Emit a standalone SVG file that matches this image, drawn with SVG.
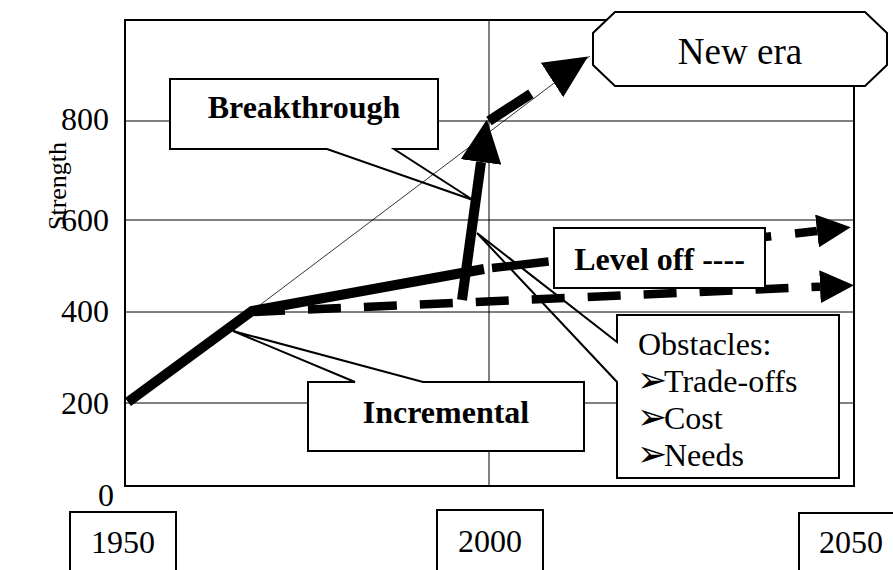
<svg xmlns="http://www.w3.org/2000/svg" width="893" height="570" viewBox="0 0 893 570">
<style>
text{font-family:"Liberation Serif","Times New Roman",serif;fill:#000}
.lbl{font-size:32px}
.b{font-size:32px;font-weight:bold;text-anchor:middle}
.ax{font-size:32px;text-anchor:end}
.yr{font-size:32px;text-anchor:middle}
.bul{font-family:"DejaVu Sans",sans-serif;font-size:36px}
.grid{stroke:#000;stroke-width:1;fill:none}
.box{fill:#fff;stroke:#000;stroke-width:2}
.boxfill{fill:#fff;stroke:none}
.outline{fill:none;stroke:#000;stroke-width:2;stroke-linejoin:miter}
.thick{fill:none;stroke:#000;stroke-width:10;stroke-linecap:butt;stroke-linejoin:round}
.dash{fill:none;stroke:#000;stroke-width:8.5;stroke-linecap:butt}
</style>
<defs>
<marker id="ahL" viewBox="0 0 10 10" refX="0" refY="5" markerUnits="userSpaceOnUse" markerWidth="43" markerHeight="41" orient="auto" preserveAspectRatio="none"><path d="M0,0 L10,5 L0,10 Z" fill="#000"/></marker>
<marker id="ahS" viewBox="0 0 10 10" refX="0" refY="5" markerUnits="userSpaceOnUse" markerWidth="34" markerHeight="33" orient="auto" preserveAspectRatio="none"><path d="M0,0 L10,5 L0,10 Z" fill="#000"/></marker>
</defs>
<rect width="893" height="570" fill="#fff"/>
<g id="plot">
<rect x="125" y="20" width="729" height="466" fill="#fff" stroke="#000" stroke-width="2"/>
<line class="grid" x1="125" y1="121" x2="854" y2="121"/>
<line class="grid" x1="125" y1="220" x2="854" y2="220"/>
<line class="grid" x1="125" y1="312" x2="854" y2="312"/>
<line class="grid" x1="125" y1="403" x2="854" y2="403"/>
<line class="grid" x1="489" y1="20" x2="489" y2="486"/>
</g>
<g id="axis-labels">
<text class="ax" x="109" y="130">800</text>
<text class="ax" x="109" y="231">600</text>
<text class="ax" x="109" y="322">400</text>
<text class="ax" x="109" y="414">200</text>
<text class="ax" x="114" y="506">0</text>
<text style="font-size:26px" text-anchor="middle" transform="translate(66,186) rotate(-90)">Strength</text>
</g>
<g id="connectors">
<line x1="252" y1="311" x2="590" y2="56" stroke="#000" stroke-width="0.8"/>
<polyline class="thick" points="128,402 252,311 484,269"/>
<path class="dash" d="M252,312 L820,286.7" stroke-dasharray="33 23" marker-end="url(#ahS)"/>
<path class="dash" d="M492,268 L817,231" stroke-dasharray="57 191 33 24 40" marker-end="url(#ahS)"/>
<path class="thick" d="M462,300 L481,162" marker-end="url(#ahL)"/>
<path class="thick" d="M489,121 L552,80" stroke-dasharray="50 40" marker-end="url(#ahL)"/>
</g>
<g id="breakthrough">
<rect class="boxfill" x="170" y="79" width="268" height="70"/>
<path class="outline" d="M394,149 H438 V79 H170 V149 H327 L473,200 Z"/>
<text class="b" x="304" y="118">Breakthrough</text>
</g>
<g id="new-era">
<polygon class="box" points="615,12 865,12 887,33 887,65 865,86 615,86 593,65 593,33"/>
<text x="740" y="64" style="font-size:37px" text-anchor="middle">New era</text>
</g>
<g id="level-off">
<rect class="box" x="554" y="228" width="211" height="60"/>
<text class="b" x="659.5" y="270">Level off ----</text>
</g>
<g id="obstacles">
<rect class="boxfill" x="617" y="315" width="222" height="163"/>
<path class="outline" d="M617,342 V315 H839 V478 H617 V382 L477,233 Z"/>
<text class="lbl" x="638" y="355">Obstacles:</text>
<text class="bul" x="637" y="392">➢</text>
<text class="lbl" x="664" y="392">Trade-offs</text>
<text class="bul" x="637" y="429">➢</text>
<text class="lbl" x="664" y="429">Cost</text>
<text class="bul" x="637" y="466">➢</text>
<text class="lbl" x="664" y="466">Needs</text>
</g>
<g id="incremental">
<rect class="boxfill" x="308" y="382" width="276" height="69"/>
<path class="outline" d="M423,382 H584 V451 H308 V382 H355 L233,331 Z"/>
<text class="b" x="446" y="423">Incremental</text>
</g>
<g id="year-1950">
<rect class="box" x="70" y="512" width="106" height="70"/>
<text class="yr" x="123" y="553">1950</text>
</g>
<g id="year-2000">
<rect class="box" x="437" y="510" width="106" height="72"/>
<text class="yr" x="490" y="552">2000</text>
</g>
<g id="year-2050">
<rect class="box" x="799" y="513" width="106" height="70"/>
<text class="yr" x="851" y="553">2050</text>
</g>
</svg>
